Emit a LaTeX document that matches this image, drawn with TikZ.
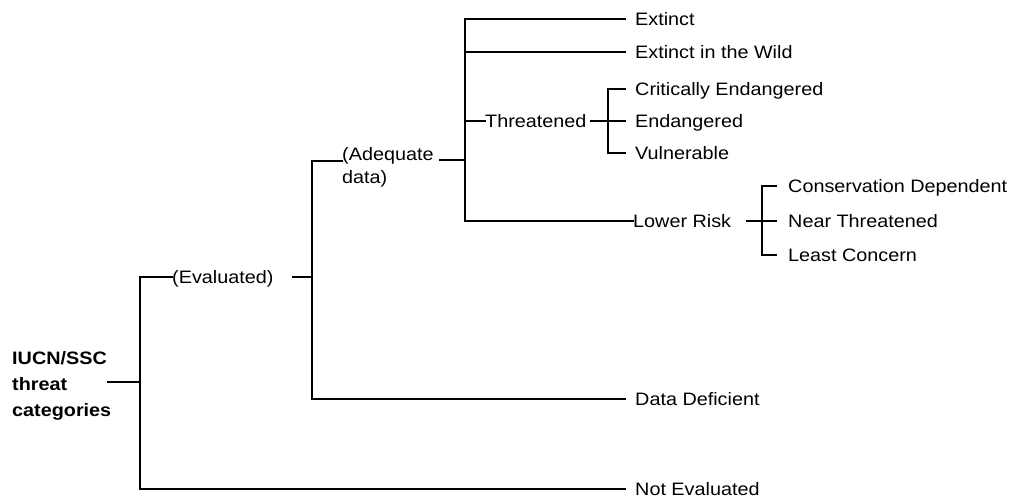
\documentclass[tikz,border=0pt]{standalone}
\usepackage{fontspec}
\setmainfont[FakeStretch=1.1]{Liberation Sans}
\begin{document}
\begin{tikzpicture}[x=1pt,y=-1pt,
  conn/.style={line width=1.8pt, line cap=rect},
  lbl/.style={inner sep=0pt, anchor=west, text height=13pt, text depth=0pt,
    font=\fontsize{18}{23}\selectfont},
  lbltwo/.style={inner sep=0pt, anchor=north west, align=left,
    font=\fontsize{18}{23}\selectfont},
  rootlbl/.style={inner sep=0pt, anchor=north west, align=left,
    font=\bfseries\fontsize{18}{26}\selectfont},
]
\useasboundingbox (0,0) rectangle (1018,498);

% root
\node[rootlbl] (root) at (12,351) {IUCN/SSC\\threat\\categories};
\coordinate (r0) at (140,382);
\coordinate (rs) at (108,382);
\coordinate (ev) at (140,277);
\coordinate (ne) at (140,489);
\draw[conn] (rs) -- (r0);
\draw[conn] (ev) -- (ne);

% not evaluated
\node[lbl] (nev) at (635,489) {Not Evaluated};
\draw[conn] (ne) -- ([xshift=-10pt]nev.west);

% evaluated
\node[lbl] (evl) at (172,277) {(Evaluated)};
\draw[conn] (ev) -- (evl.west);
\coordinate (e1) at (293,277);
\coordinate (a0) at (312,277);
\draw[conn] (e1) -- (a0);
\coordinate (ad) at (312,161);
\coordinate (dd) at (312,399);
\draw[conn] (ad) -- (dd);

% data deficient
\node[lbl] (ddl) at (635,399) {Data Deficient};
\draw[conn] (dd) -- ([xshift=-10pt]ddl.west);

% adequate data
\node[lbltwo] (adq) at (342,147) {(Adequate\\data)};
\draw[conn] (ad) -- (adq.west |- ad);
\coordinate (q1) at (440,160);
\coordinate (q0) at (465,160);
\draw[conn] (q1) -- (q0);
\coordinate (x0) at (465,19);
\coordinate (lr) at (465,221);
\draw[conn] (x0) -- (lr);

% extinct
\node[lbl] (ext) at (635,19) {Extinct};
\draw[conn] (x0) -- ([xshift=-10pt]ext.west);
\coordinate (w0) at (465,52);
\node[lbl] (exw) at (635,52) {Extinct in the Wild};
\draw[conn] (w0) -- ([xshift=-10pt]exw.west);

% threatened
\coordinate (t0) at (465,121);
\node[lbl] (thr) at (485,121) {Threatened};
\draw[conn] (t0) -- (thr.west);
\coordinate (t1) at (591,121);
\coordinate (tj) at (608,121);
\draw[conn] (t1) -- (tj);
\coordinate (tt) at (608,89);
\coordinate (tb) at (608,153);
\draw[conn] (tt) -- (tb);
\node[lbl] (cr) at (635,89) {Critically Endangered};
\node[lbl] (en) at (635,121) {Endangered};
\node[lbl] (vu) at (635,153) {Vulnerable};
\draw[conn] (tt) -- ([xshift=-10pt]cr.west);
\draw[conn] (tj) -- ([xshift=-10pt]en.west);
\draw[conn] (tb) -- ([xshift=-10pt]vu.west);

% lower risk
\node[lbl] (low) at (633,221) {Lower Risk};
\draw[conn] (lr) -- (low.west);
\coordinate (l1) at (747,221);
\coordinate (lj) at (762,221);
\draw[conn] (l1) -- (lj);
\coordinate (lt) at (762,186);
\coordinate (lb) at (762,255);
\draw[conn] (lt) -- (lb);
\node[lbl] (cd) at (788,186) {Conservation Dependent};
\node[lbl] (nt) at (788,221) {Near Threatened};
\node[lbl] (lc) at (788,255) {Least Concern};
\draw[conn] (lt) -- ([xshift=-12pt]cd.west);
\draw[conn] (lj) -- ([xshift=-12pt]nt.west);
\draw[conn] (lb) -- ([xshift=-12pt]lc.west);
\end{tikzpicture}
\end{document}
